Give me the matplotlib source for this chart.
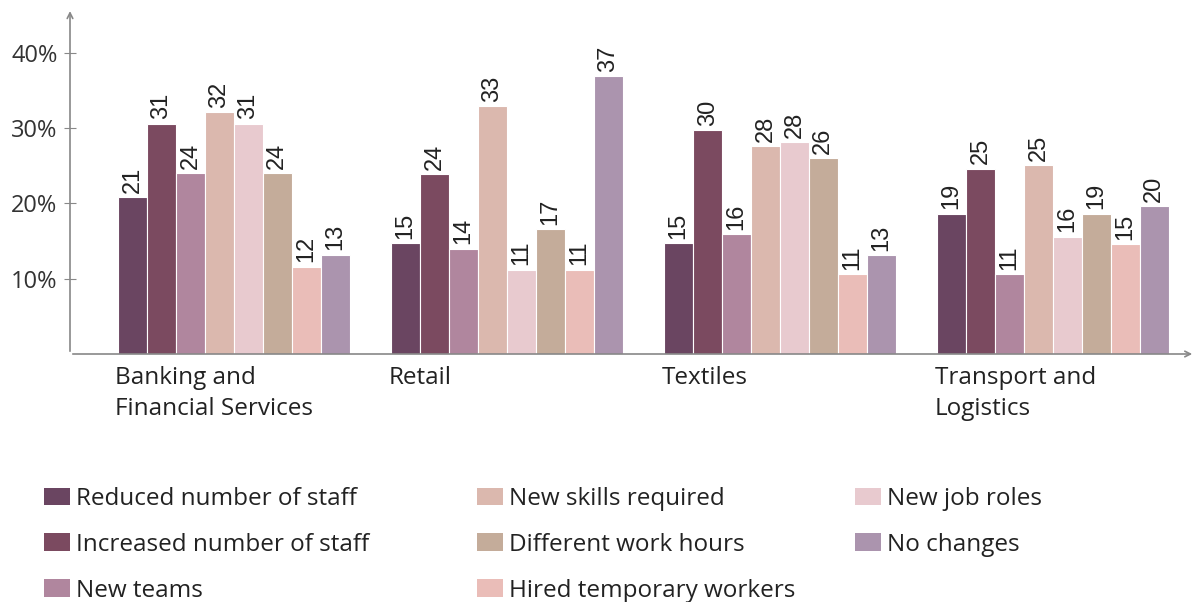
import numpy as np
import matplotlib
matplotlib.use("Agg")
import matplotlib.pyplot as plt
from matplotlib.patches import Patch

# data (percent of firms)
categories = ["Banking and\nFinancial Services", "Retail", "Textiles", "Transport and\nLogistics"]
series = ["Reduced number of staff", "Increased number of staff", "New teams",
          "New skills required", "New job roles", "Different work hours",
          "Hired temporary workers", "No changes"]
colors = ["#6a4561", "#7b4a60", "#b0869e", "#dbb8ae",
          "#e8cacf", "#c4ac9a", "#eabdb8", "#ab94ae"]

reduced_staff   = [20.8, 14.7, 14.7, 18.6]
increased_staff = [30.6, 23.9, 29.7, 24.6]
new_teams       = [24.0, 14.0, 15.9, 10.6]
new_skills      = [32.1, 32.9, 27.6, 25.1]
new_job_roles   = [30.6, 11.2, 28.1, 15.6]
different_hours = [24.0, 16.6, 26.0, 18.6]
hired_temp      = [11.6, 11.2, 10.6, 14.6]
no_changes      = [13.2, 36.9, 13.1, 19.6]
values = [reduced_staff, increased_staff, new_teams, new_skills,
          new_job_roles, different_hours, hired_temp, no_changes]

ui_font = "Open Sans"
text_col = "#222222"

fig = plt.figure(figsize=(11.95, 6.02), dpi=100)
ax = fig.add_axes([70 / 1195, 248 / 602, 1125 / 1195, 344 / 602])

x = np.arange(len(categories))
n = len(series)
bw = 0.106
for i in range(n):
    pos = x + (i - (n - 1) / 2) * bw
    bars = ax.bar(pos, values[i], width=bw, color=colors[i],
                  edgecolor="white", linewidth=0.8, label=series[i])
    for b, v in zip(bars, values[i]):
        ax.text(b.get_x() + b.get_width() / 2, v + 0.6, f"{v:.0f}",
                rotation=90, ha="center", va="bottom",
                fontsize=17, family="Liberation Sans", color=text_col)

ax.set_xlim(-0.60, 3.52)
ax.set_ylim(0, 45.7)

# axes with arrow heads
for s in ["top", "right", "left", "bottom"]:
    ax.spines[s].set_visible(False)
ax.annotate("", xy=(0, 1.005), xytext=(0, 0), xycoords="axes fraction",
            arrowprops=dict(arrowstyle="->", color="#888888", lw=1.2))
ax.annotate("", xy=(1, 0), xytext=(0, 0), xycoords="axes fraction",
            arrowprops=dict(arrowstyle="->", color="#888888", lw=1.2))

ax.set_yticks([10, 20, 30, 40])
ax.set_yticklabels(["10%", "20%", "30%", "40%"], fontsize=17,
                   family=ui_font, color="#333333")
ax.tick_params(axis="y", direction="inout", length=8, color="#888888", pad=5)
ax.set_xticks([])

# category labels, left-aligned at the start of each group
for xi, cat in zip(x, categories):
    ax.text(xi - n * bw / 2 - 0.01, -0.035, cat, transform=ax.get_xaxis_transform(),
            ha="left", va="top", fontsize=17.5, family=ui_font, color=text_col,
            linespacing=1.38)

# legend as three columns
handles = [Patch(facecolor=c) for c in colors]
legend_cols = [[0, 1, 2], [3, 5, 6], [4, 7]]
col_x = [44 / 1195, 477 / 1195, 855 / 1195]
for cols, lx in zip(legend_cols, col_x):
    fig.legend([handles[k] for k in cols], [series[k] for k in cols],
               loc="upper left", bbox_to_anchor=(lx, 1 - 487 / 602),
               frameon=False, prop={"family": ui_font, "size": 17.5},
               handlelength=1.05, handleheight=0.75, handletextpad=0.25,
               labelspacing=0.9, borderaxespad=0, borderpad=0,
               labelcolor=text_col)

fig.savefig("out.png", dpi=100)
